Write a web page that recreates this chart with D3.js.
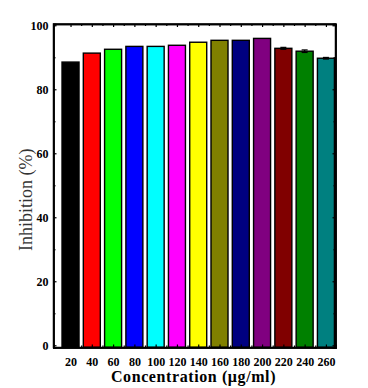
<!DOCTYPE html>
<html><head><meta charset="utf-8">
<script src="https://cdn.jsdelivr.net/npm/d3@7"></script>
<style>body{margin:0;background:#fff}svg{display:block}</style>
</head><body>
<svg id="c" width="368" height="388"></svg>
<script>
(function(){
const categories = [20,40,60,80,100,120,140,160,180,200,220,240,260];
const values = [88.5,91.3,92.5,93.4,93.4,93.75,94.7,95.3,95.3,95.9,92.8,91.9,89.7];
const errors = [0,0,0,0,0,0,0,0,0,0,0.3,0.4,0.25];
const colors = ["#000000","#ff0000","#00ff00","#0000ff","#00ffff","#ff00ff","#ffff00","#808000","#000080","#800080","#800000","#008000","#008080"];
const yTicks = [0,20,40,60,80,100];

const svg = d3.select("#c");
const L=53.5,R=335.5,T=24,B=347.5;
const x = d3.scaleLinear().domain([4,269]).range([L,R]);
const y = d3.scaleLinear().domain([-0.7,100.4]).range([B,T]);
const bw = 17;
const serif = "'Liberation Serif','Times New Roman',serif";

svg.append("g").selectAll("rect").data(categories).join("rect")
  .attr("x",(d)=>x(d)-bw/2).attr("width",bw)
  .attr("y",(d,i)=>y(values[i])).attr("height",(d,i)=>y(0)-y(values[i])+2)
  .attr("fill",(d,i)=>colors[i]).attr("stroke","#000").attr("stroke-width",1.4);
const eg = svg.append("g").attr("stroke","#000").attr("stroke-width",1.2);
categories.forEach((c,i)=>{
  if(!errors[i]) return;
  const cx=x(c);
  eg.append("line").attr("x1",cx).attr("x2",cx).attr("y1",y(values[i]+errors[i])).attr("y2",y(values[i]-errors[i]));
  eg.append("line").attr("x1",cx-3).attr("x2",cx+3).attr("y1",y(values[i]+errors[i])).attr("y2",y(values[i]+errors[i]));
  eg.append("line").attr("x1",cx-3).attr("x2",cx+3).attr("y1",y(values[i]-errors[i])).attr("y2",y(values[i]-errors[i]));
});

svg.append("rect").attr("x",0).attr("y",B).attr("width",368).attr("height",388-B).attr("fill","#fff");

const minorY = d3.range(10,100,20);
const minorX = d3.range(30,260,20);
const gl = svg.append("g").attr("transform",`translate(${L},0)`)
  .call(d3.axisLeft(y).tickValues(yTicks).tickSize(-3).tickPadding(5).tickFormat(d3.format("d")));
gl.append("g").call(d3.axisLeft(y).tickValues(minorY).tickSize(-2).tickFormat(""));
const gr = svg.append("g").attr("transform",`translate(${R},0)`)
  .call(d3.axisRight(y).tickValues(yTicks).tickSize(-3).tickFormat(""));
gr.append("g").call(d3.axisRight(y).tickValues(minorY).tickSize(-2).tickFormat(""));
const gb = svg.append("g").attr("transform",`translate(0,${B})`)
  .call(d3.axisBottom(x).tickValues(categories).tickSize(-3).tickPadding(9).tickFormat(d3.format("d")));
gb.append("g").call(d3.axisBottom(x).tickValues(minorX).tickSize(-2).tickFormat(""));
const gt = svg.append("g").attr("transform",`translate(0,${T})`)
  .call(d3.axisTop(x).tickValues(categories).tickSize(-3).tickFormat(""));
gt.append("g").call(d3.axisTop(x).tickValues(minorX).tickSize(-2).tickFormat(""));

svg.selectAll(".domain").attr("stroke","#000").attr("stroke-width",1.5);
svg.selectAll(".tick line").attr("stroke","#000").attr("stroke-width",1.2);
svg.selectAll(".tick text").attr("font-family",serif).attr("font-weight","bold").attr("font-size",12).attr("fill","#000");
gb.selectAll(".tick text").attr("dy","0.75em");
svg.append("rect").attr("x",L).attr("y",T).attr("width",R-L).attr("height",B-T)
  .attr("fill","none").attr("stroke","#000").attr("stroke-width",1.5);

svg.append("text").attr("transform",`translate(32,${(T+B)/2+14}) rotate(-90)`)
  .attr("text-anchor","middle").attr("font-family",serif).attr("font-size",18).attr("fill","#333")
  .text("Inhibition (%)");
svg.append("text").attr("x",(L+R)/2-1).attr("y",382)
  .attr("text-anchor","middle").attr("font-family",serif).attr("font-weight","bold").attr("font-size",16)
  .attr("letter-spacing",0.6).attr("fill","#000")
  .text("Concentration (μg/ml)");
})();
</script>
</body></html>
